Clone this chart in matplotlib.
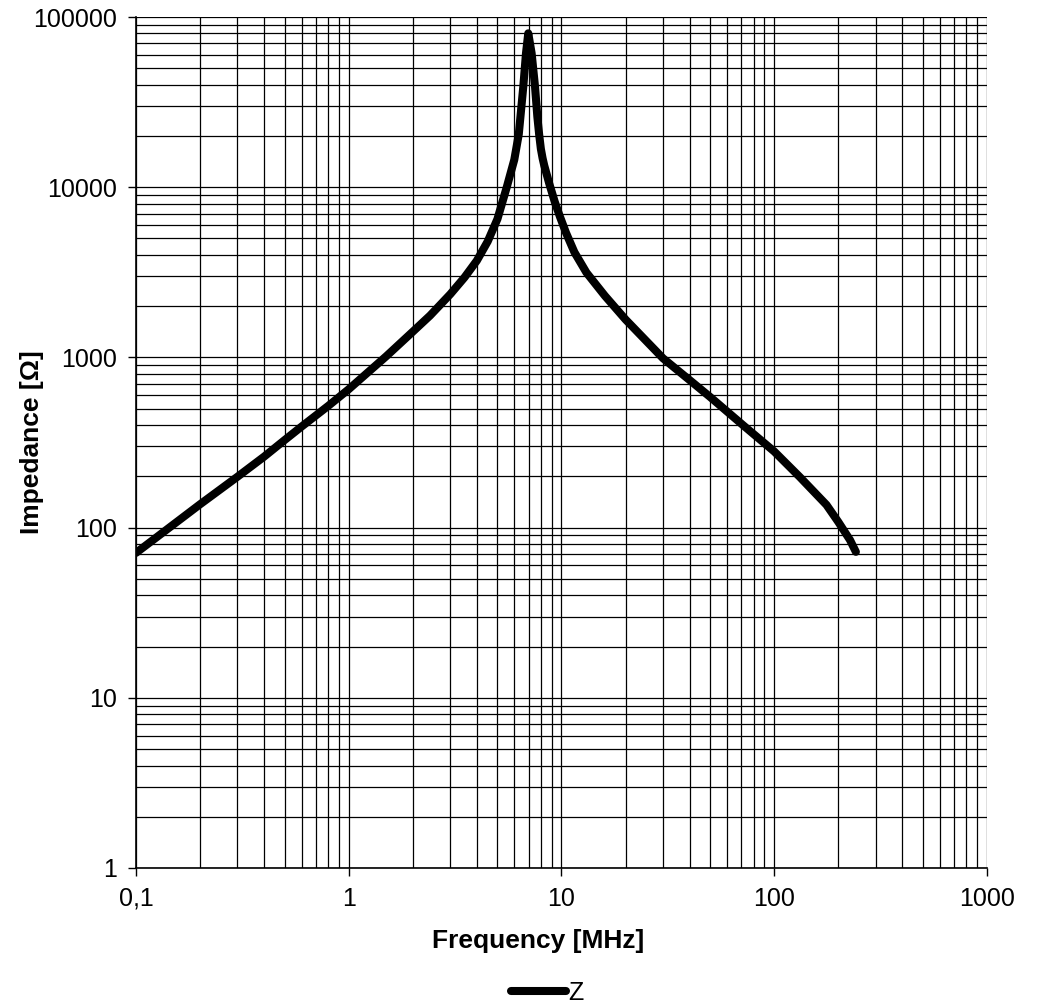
import matplotlib
matplotlib.use("Agg")
import matplotlib.pyplot as plt
from matplotlib.ticker import LogLocator, FixedLocator, FixedFormatter, NullFormatter

plt.rcParams['font.family'] = ['Liberation Sans', 'DejaVu Sans']

freq = [0.1, 0.2, 0.3, 0.4, 0.5, 0.6, 0.8, 1.0, 1.5, 2.0, 2.41, 3.0, 3.5, 4.0, 4.5, 5.0, 5.53, 6.0, 6.3,
        6.615, 6.81, 6.98, 7.24, 7.51, 7.7, 7.85, 8.0, 8.15, 8.3, 8.76, 9.3, 9.84, 10.5, 11.5, 13.1, 16.0, 20.0,
        30.0, 40.0, 50.0, 71.3, 100.0, 132.0, 176.0, 200.0, 227.0, 242.0]
imp = [71, 137, 199, 261, 327, 392, 518, 650, 1015, 1416, 1760, 2350, 2950, 3700, 4800, 6500, 10000, 14500, 20500,
       39000, 61200, 80200, 61200, 39000, 26000, 20500, 16800, 14800, 13400, 10500, 8200, 6700, 5400, 4150, 3150, 2300, 1670,
       988, 736, 585, 400, 280, 198, 136, 108, 84.6, 72]

x_ticks = [0.1, 1, 10, 100, 1000]
x_labels = ['0,1', '1', '10', '100', '1000']
y_ticks = [1, 10, 100, 1000, 10000, 100000]
y_labels = ['1', '10', '100', '1000', '10000', '100000']

fig = plt.figure(figsize=(10.42, 10.06), dpi=100)
ax = fig.add_axes([0.1305, 0.1372, 0.9472 - 0.1305, 0.9831 - 0.1372])
ax.set_xscale('log')
ax.set_yscale('log')
ax.set_xlim(0.1, 1000)
ax.set_ylim(1, 100000)

ax.plot(freq, imp, color='black', lw=5.8, solid_capstyle='round', solid_joinstyle='round', label='Z', zorder=3)

ax.xaxis.set_major_locator(FixedLocator(x_ticks))
ax.xaxis.set_major_formatter(FixedFormatter(x_labels))
ax.yaxis.set_major_locator(FixedLocator(y_ticks))
ax.yaxis.set_major_formatter(FixedFormatter(y_labels))
ax.xaxis.set_minor_locator(LogLocator(base=10, subs=range(2, 10), numticks=20))
ax.yaxis.set_minor_locator(LogLocator(base=10, subs=range(2, 10), numticks=20))
ax.xaxis.set_minor_formatter(NullFormatter())
ax.yaxis.set_minor_formatter(NullFormatter())

ax.grid(True, which='both', color='black', lw=0.9)
ax.tick_params(axis='both', which='major', direction='out', length=6, width=1, labelsize=18, pad=7.5)
ax.tick_params(axis='both', which='minor', length=0)
for s in ['top', 'right']:
    ax.spines[s].set_visible(False)
for s in ['left', 'bottom']:
    ax.spines[s].set_linewidth(1.2)

ax.set_xlabel('Frequency [MHz]', fontsize=19, fontweight='bold')
ax.set_ylabel('Impedance [Ω]', fontsize=19, fontweight='bold')
ax.xaxis.set_label_coords(0.4724, -0.072)
ax.yaxis.set_label_coords(-0.108, 0.5)

leg = fig.legend(loc='center', bbox_to_anchor=(0.525, 0.013), frameon=False, fontsize=18,
                 handlelength=2.2, handletextpad=0.1)

fig.savefig('out.png', dpi=100)
